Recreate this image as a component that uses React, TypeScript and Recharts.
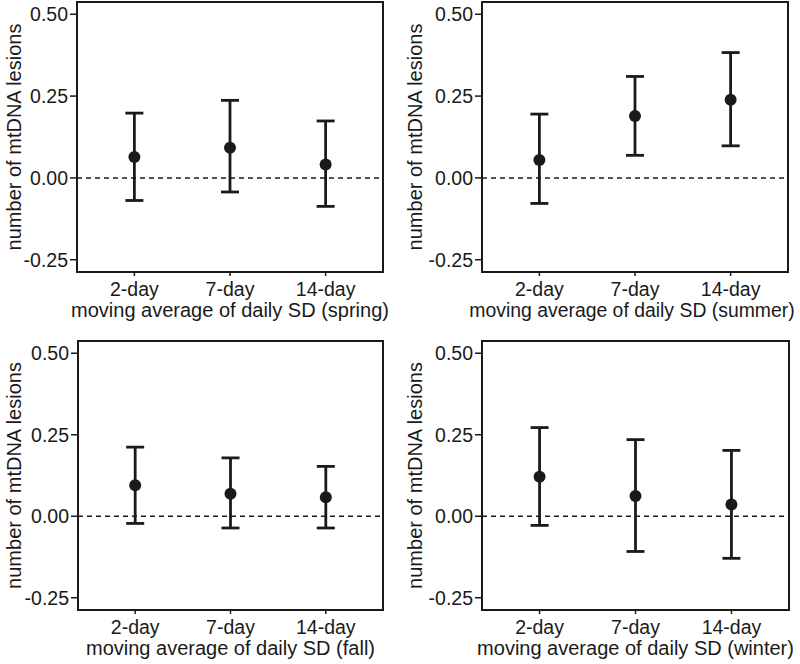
import { ComposedChart, ErrorBar, ReferenceArea, ReferenceLine, Scatter, XAxis, YAxis } from 'recharts'

const categories = ['2-day', '7-day', '14-day']
const yTicks = [-0.25, 0, 0.25, 0.5]

const springEst = [0.064, 0.092, 0.041]
const springLow = [-0.069, -0.043, -0.087]
const springHigh = [0.198, 0.237, 0.174]

const summerEst = [0.055, 0.189, 0.239]
const summerLow = [-0.078, 0.069, 0.098]
const summerHigh = [0.195, 0.31, 0.383]

const fallEst = [0.095, 0.069, 0.058]
const fallLow = [-0.022, -0.036, -0.036]
const fallHigh = [0.212, 0.179, 0.153]

const winterEst = [0.121, 0.062, 0.036]
const winterLow = [-0.028, -0.108, -0.129]
const winterHigh = [0.272, 0.235, 0.202]

const FONT = '"Liberation Sans", Arial, sans-serif'
const INK = '#1a1a1a'
const Y_MIN = -0.2875
const Y_MAX = 0.5375
const W = 400
const H = 332

type PanelProps = {
  season: string
  est: number[]
  low: number[]
  high: number[]
  left: number
  top: number
  plotLeft: number
  plotRight: number
  plotTop: number
  plotHeight: number
  yLabelX: number
  titleSize?: number
  titleShift?: number
}

function Panel({
  season, est, low, high, left, top, plotLeft, plotRight, plotTop, plotHeight, yLabelX,
  titleSize = 20, titleShift = 0,
}: PanelProps) {
  const data = categories.map((name, i) => ({
    name,
    x: i + 1,
    y: est[i],
    err: [est[i] - low[i], high[i] - est[i]],
  }))
  const xAxisHeight = H - plotTop - plotHeight
  const midY = plotTop + plotHeight / 2
  const midX = (plotLeft + plotRight) / 2 + titleShift

  return (
    <div style={{ position: 'absolute', left, top, width: W, height: H }}>
      <ComposedChart width={W} height={H} margin={{ top: plotTop, right: W - plotRight, left: 0, bottom: 0 }}>
        <XAxis
          type="number"
          dataKey="x"
          domain={[0.4, 3.6]}
          ticks={[1, 2, 3]}
          tickFormatter={(v: number) => categories[v - 1] ?? ''}
          height={xAxisHeight}
          axisLine={false}
          tickSize={4}
          tickMargin={6}
          tickLine={{ stroke: INK, strokeWidth: 1.5 }}
          tick={{ fontSize: 19.5, fill: INK, fontFamily: FONT }}
          label={{
            content: () => (
              <text x={midX} y={plotTop + plotHeight + 45} textAnchor="middle" fontSize={titleSize} fill={INK} fontFamily={FONT}>
                {`moving average of daily SD (${season})`}
              </text>
            ),
          }}
        />
        <YAxis
          type="number"
          dataKey="y"
          domain={[Y_MIN, Y_MAX]}
          ticks={yTicks}
          allowDataOverflow
          tickFormatter={(v: number) => v.toFixed(2)}
          width={plotLeft}
          axisLine={false}
          tickSize={7}
          tickMargin={2}
          tickLine={{ stroke: INK, strokeWidth: 1.5 }}
          tick={{ fontSize: 19.5, fill: INK, fontFamily: FONT }}
          label={{
            content: () => (
              <text
                x={yLabelX}
                y={midY}
                transform={`rotate(-90, ${yLabelX}, ${midY})`}
                textAnchor="middle"
                dominantBaseline="central"
                fontSize={20}
                fill={INK}
                fontFamily={FONT}
              >
                number of mtDNA lesions
              </text>
            ),
          }}
        />
        <ReferenceArea x1={0.4} x2={3.6} y1={Y_MIN} y2={Y_MAX} fill="none" stroke={INK} strokeWidth={2} />
        <ReferenceLine y={0} stroke={INK} strokeWidth={1.5} strokeDasharray="5 4" />
        <Scatter
          data={data}
          isAnimationActive={false}
          shape={(p: any) => <circle cx={p.cx} cy={p.cy} r={6} fill={INK} />}
        >
          <ErrorBar dataKey="err" direction="y" width={9} strokeWidth={2.8} stroke={INK} isAnimationActive={false} />
        </Scatter>
      </ComposedChart>
    </div>
  )
}

export default function App() {
  return (
    <div style={{ position: 'absolute', left: 0, top: 0, width: 800, height: 664, background: '#fff', overflow: 'hidden' }}>
      <Panel season="spring" est={springEst} low={springLow} high={springHigh}
        left={0} top={0} plotLeft={77} plotRight={383} plotTop={2} plotHeight={270} yLabelX={14} />
      <Panel season="summer" est={summerEst} low={summerLow} high={summerHigh}
        left={400} top={0} plotLeft={82} plotRight={388} plotTop={2} plotHeight={270} yLabelX={15}
        titleSize={19.4} titleShift={-3} />
      <Panel season="fall" est={fallEst} low={fallLow} high={fallHigh}
        left={0} top={332} plotLeft={78} plotRight={383} plotTop={9} plotHeight={269} yLabelX={14} />
      <Panel season="winter" est={winterEst} low={winterLow} high={winterHigh}
        left={400} top={332} plotLeft={82} plotRight={389} plotTop={9} plotHeight={269} yLabelX={15} />
    </div>
  )
}
